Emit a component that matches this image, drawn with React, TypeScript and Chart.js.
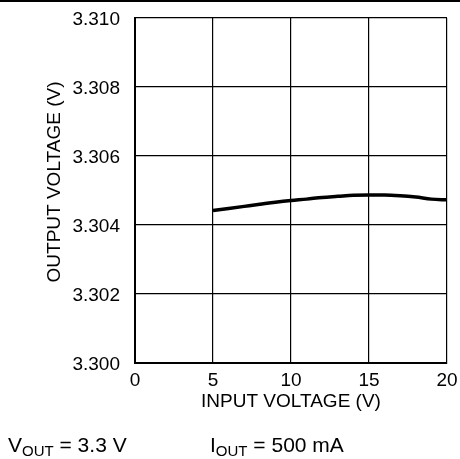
import React, { useEffect, useRef } from "react";
import { Chart, registerables } from "chart.js";

Chart.register(...registerables);

const inputVoltage = [5, 6, 7, 8, 9, 10, 11, 12, 13, 14, 15, 16, 17, 18, 19, 20];
const outputVoltage = [
  3.30442, 3.30448, 3.30454, 3.3046, 3.30466, 3.30471, 3.30475, 3.3048,
  3.30483, 3.30486, 3.30487, 3.30487, 3.30485, 3.30481, 3.30475, 3.30473,
];
const xTicks = [0, 5, 10, 15, 20];
const yTicks = [3.3, 3.302, 3.304, 3.306, 3.308, 3.31];
const xTitle = "INPUT VOLTAGE (V)";
const yTitle = "OUTPUT VOLTAGE (V)";

const FONT = "Arial, 'Liberation Sans', Helvetica, sans-serif";

const yTitlePlugin = {
  id: "yTitlePlugin",
  afterDraw(chart: any) {
    const { ctx } = chart;
    ctx.save();
    ctx.translate(55, 182);
    ctx.rotate(-Math.PI / 2);
    ctx.font = `19px ${FONT}`;
    ctx.fillStyle = "#000";
    ctx.textAlign = "center";
    ctx.textBaseline = "middle";
    ctx.fillText(yTitle, 0, 0);
    ctx.restore();
  },
};

export default function App() {
  const ref = useRef<HTMLCanvasElement | null>(null);

  useEffect(() => {
    if (!ref.current) return;
    const zeroPad = (s: any) => {
      s.paddingTop = 0;
      s.paddingBottom = 0;
      s.paddingLeft = 0;
      s.paddingRight = 0;
    };
    const chart = new Chart(ref.current, {
      type: "line",
      data: {
        datasets: [
          {
            data: inputVoltage.map((x, i) => ({ x, y: outputVoltage[i] })),
            borderColor: "#000",
            borderWidth: 3.5,
            pointRadius: 0,
            cubicInterpolationMode: "monotone",
          },
        ],
      },
      plugins: [yTitlePlugin],
      options: {
        animation: false,
        responsive: false,
        maintainAspectRatio: false,
        layout: { padding: { top: 18, right: 13, left: 0, bottom: 0 } },
        plugins: { legend: { display: false }, tooltip: { enabled: false } },
        scales: {
          x: {
            type: "linear",
            min: xTicks[0],
            max: xTicks[xTicks.length - 1],
            afterFit: (s: any) => {
              s.height = 96;
              zeroPad(s);
            },
            afterBuildTicks: (s: any) => {
              s.ticks = xTicks.map((v) => ({ value: v }));
            },
            ticks: {
              color: "#000",
              padding: 6,
              maxRotation: 0,
              font: { family: FONT, size: 19, lineHeight: 1.2 },
            },
            grid: { color: "#000", lineWidth: 1.2, drawTicks: false },
            border: { color: "#000", width: 2 },
            title: {
              display: true,
              text: xTitle,
              color: "#000",
              font: { family: FONT, size: 19, lineHeight: 1.2 },
              padding: { top: 0, bottom: 46 },
            },
          },
          y: {
            type: "linear",
            min: yTicks[0],
            max: yTicks[yTicks.length - 1],
            afterFit: (s: any) => {
              s.width = 135;
              zeroPad(s);
            },
            afterBuildTicks: (s: any) => {
              s.ticks = yTicks.map((v) => ({ value: v }));
            },
            ticks: {
              color: "#000",
              padding: 15,
              labelOffset: 2,
              font: { family: FONT, size: 19, lineHeight: 1.2 },
              callback: (v: any) => Number(v).toFixed(3),
            },
            grid: { color: "#000", lineWidth: 1.2, drawTicks: false },
            border: { color: "#000", width: 2 },
          },
        },
      },
    });
    return () => chart.destroy();
  }, []);

  const textStyle: React.CSSProperties = {
    position: "absolute",
    fontFamily: FONT,
    fontSize: 21,
    color: "#000",
    whiteSpace: "nowrap",
    lineHeight: "24px",
  };
  const subStyle: React.CSSProperties = { fontSize: 15, verticalAlign: "-4px", lineHeight: 0 };

  return (
    <div style={{ position: "fixed", left: 0, top: 0, width: 460, height: 459, background: "#fff" }}>
      <div style={{ position: "absolute", left: 0, top: 0, width: 460, height: 0, borderTop: "2px solid #000" }} />
      <canvas ref={ref} width={460} height={459} style={{ position: "absolute", left: 0, top: 0 }} />
      <div style={{ ...textStyle, left: 8, top: 433 }}>
        V<span style={subStyle}>OUT</span> = 3.3 V
      </div>
      <div style={{ ...textStyle, left: 210, top: 433 }}>
        I<span style={subStyle}>OUT</span> = 500 mA
      </div>
    </div>
  );
}
